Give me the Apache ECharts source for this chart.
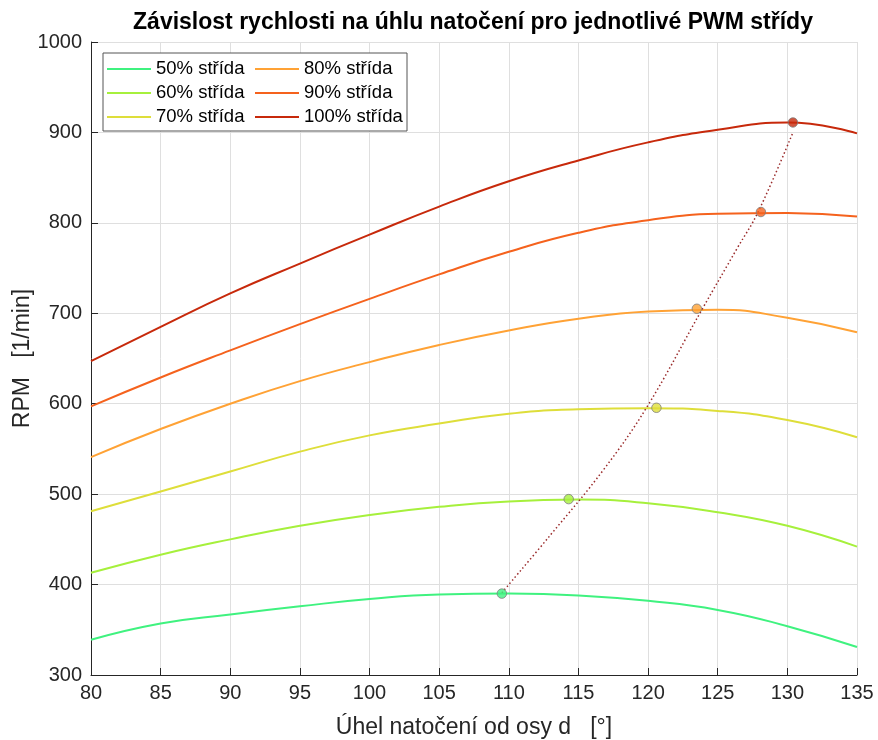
<!DOCTYPE html>
<html>
<head>
<meta charset="utf-8">
<script src="https://cdn.jsdelivr.net/npm/echarts@6/dist/echarts.min.js"></script>
<style>html,body{margin:0;padding:0;background:#fff}#c{width:878px;height:740px}</style>
</head>
<body>
<div id="c"></div>
<script>
// ---- data ----
const angles = [80, 85, 90, 95, 100, 105, 110, 115, 120, 125, 130, 135];
const rpm50  = [339, 357, 367, 376, 384, 389, 390, 388, 382, 372, 354, 331];
const rpm60  = [413, 433, 450, 465, 477, 486, 492, 494, 490, 480, 465, 442];
const rpm70  = [481, 503, 525, 547, 565, 578, 589, 594, 595, 592, 582, 563];
const rpm80  = [541, 572, 600, 625, 646, 665, 681, 694, 702, 704, 695, 679];
const rpm90  = [597, 629, 659, 688, 716, 743, 768, 789, 803, 810, 811, 807];
const rpm100 = [647, 685, 722, 755, 787, 818, 846, 869, 889, 903, 911, 899];
const seriesNames = ['50% střída', '60% střída', '70% střída', '80% střída', '90% střída', '100% střída'];
const colors = ['#3ff27f', '#a6f03c', '#dede3a', '#ffa235', '#f5621d', '#c7290b'];
// maxima of each curve [angle, rpm]
const peakAngles = [109.5, 114.3, 120.6, 123.5, 128.1, 130.4];
const peakRpm    = [390, 494.5, 595.5, 705, 812, 911];
// dotted trend line through maxima
const trendAngles = [109.5, 113.0, 116.8, 119.9, 123.9, 126.4, 127.9, 130.4];
const trendRpm    = [391, 455, 527, 596, 705, 772, 812, 900];
const xTicks = [80, 85, 90, 95, 100, 105, 110, 115, 120, 125, 130, 135];
const yTicks = [300, 400, 500, 600, 700, 800, 900, 1000];

const allVals = [rpm50, rpm60, rpm70, rpm80, rpm90, rpm100];

const series = allVals.map((v, i) => ({
  name: seriesNames[i],
  type: 'line',
  data: angles.map((a, k) => [a, v[k]]),
  smooth: 0.5,
  showSymbol: false,
  symbol: 'none',
  lineStyle: { color: colors[i], width: 2 },
  itemStyle: { color: colors[i] },
  z: 3
}));

series.push({
  name: 'trend',
  type: 'line',
  data: trendAngles.map((a, k) => [a, trendRpm[k]]),
  smooth: 0.4,
  symbol: 'none',
  lineStyle: { color: '#9a2a2a', width: 1.5, type: [1.5, 2.5] },
  z: 4
});

series.push({
  name: 'maxima',
  type: 'scatter',
  data: peakAngles.map((a, k) => ({ value: [a, peakRpm[k]], itemStyle: { color: colors[k] } })),
  symbol: 'circle',
  symbolSize: 9.5,
  itemStyle: { borderColor: '#808080', borderWidth: 1 },
  z: 5
});

const font = 'Liberation Sans, Arial, Helvetica, sans-serif';

const chart = echarts.init(document.getElementById('c'), null, { renderer: 'canvas' });
chart.setOption({
  animation: false,
  backgroundColor: '#ffffff',
  title: {
    text: 'Závislost rychlosti na úhlu natočení pro jednotlivé PWM střídy',
    left: 468, top: 6,
    textAlign: 'center',
    textStyle: { fontFamily: font, fontSize: 23, fontWeight: 'bold', color: '#000' }
  },
  grid: { left: 91, right: 21, top: 42, bottom: 65, containLabel: false, outerBoundsMode: 'none' },
  xAxis: {
    type: 'value', min: 80, max: 135, interval: 5,
    name: 'Úhel natočení od osy d   [°]',
    nameLocation: 'middle', nameGap: 41, nameMoveOverlap: false,
    nameTextStyle: { fontFamily: font, fontSize: 23, color: '#262626' },
    axisLine: { show: true, onZero: false, lineStyle: { color: '#262626', width: 1 } },
    axisTick: { show: true, inside: true, length: 7, lineStyle: { color: '#262626' } },
    axisLabel: { fontFamily: font, fontSize: 20, color: '#262626', margin: 8,
      formatter: v => xTicks.includes(v) ? String(v) : '' },
    splitLine: { show: true, lineStyle: { color: '#dfdfdf', width: 1 } }
  },
  yAxis: {
    type: 'value', min: 300, max: 1000, interval: 100,
    name: 'RPM   [1/min]',
    nameLocation: 'middle', nameGap: 57, nameMoveOverlap: false,
    nameTextStyle: { fontFamily: font, fontSize: 23, color: '#262626' },
    axisLine: { show: true, onZero: false, lineStyle: { color: '#262626', width: 1 } },
    axisTick: { show: true, inside: true, length: 7, lineStyle: { color: '#262626' } },
    axisLabel: { fontFamily: font, fontSize: 20, color: '#262626', margin: 9,
      formatter: v => yTicks.includes(v) ? String(v) : '' },
    splitLine: { show: true, lineStyle: { color: '#dfdfdf', width: 1 } }
  },
  graphic: [{
    type: 'rect', z: 50,
    shape: { x: 103, y: 53, width: 304, height: 78 },
    style: { fill: '#ffffff', stroke: '#555555', lineWidth: 1 }
  }],
  legend: [
    {
      data: seriesNames.slice(0, 3), orient: 'vertical', left: 107, top: 59,
      padding: 0, itemGap: 4, itemWidth: 44, itemHeight: 2, icon: 'rect', z: 60,
      textStyle: { fontFamily: font, fontSize: 18.5, color: '#000', lineHeight: 20 },
      selectedMode: false
    },
    {
      data: seriesNames.slice(3, 6), orient: 'vertical', left: 255, top: 59,
      padding: 0, itemGap: 4, itemWidth: 44, itemHeight: 2, icon: 'rect', z: 60,
      textStyle: { fontFamily: font, fontSize: 18.5, color: '#000', lineHeight: 20 },
      selectedMode: false
    }
  ],
  series: series
});
</script>
</body>
</html>
